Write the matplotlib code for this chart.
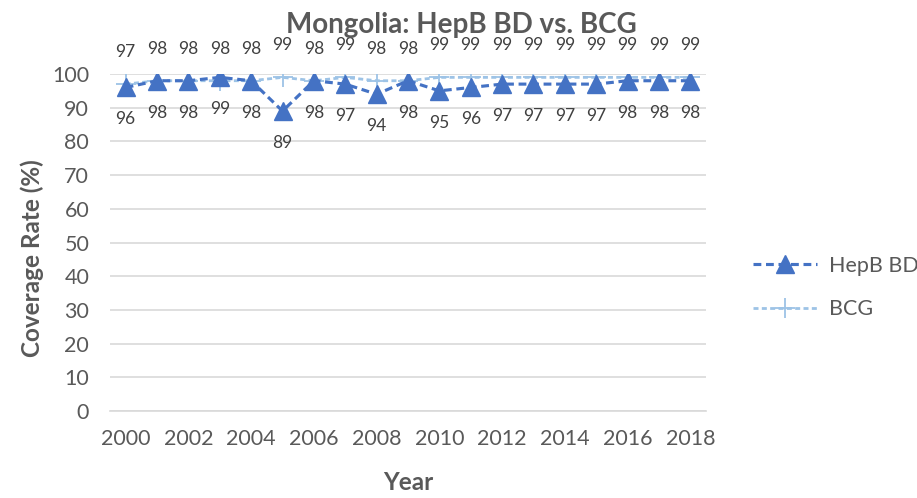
import matplotlib.pyplot as plt

plt.rcParams['font.family'] = ['Lato', 'DejaVu Sans']

years = list(range(2000, 2019))
hepb_bd = [96, 98, 98, 99, 98, 89, 98, 97, 94, 98, 95, 96, 97, 97, 97, 97, 98, 98, 98]
bcg = [97, 98, 98, 98, 98, 99, 98, 99, 98, 98, 99, 99, 99, 99, 99, 99, 99, 99, 99]
tick_years = list(range(2000, 2019, 2))

gray = '#595959'
fig = plt.figure(figsize=(9.17, 4.98), dpi=100)
# plot area: x 110..706 px, y 74..411 px
ax = fig.add_axes([110 / 917, 1 - 411 / 498, 596 / 917, 337 / 498])

ax.plot(years, bcg, color='#9DC3E6', ls=(0, (1.8, 1.2)), lw=2, marker='+',
        ms=14, mew=1.3, label='BCG', zorder=3)
ax.plot(years, hepb_bd, color='#4472C4', ls=(0, (2.5, 1.5)), lw=2.25,
        marker='^', ms=12.5, label='HepB BD', zorder=4)

for x, v in zip(years, bcg):
    ax.annotate(str(v), (x, v), xytext=(0, 23), textcoords='offset points',
                ha='center', va='center', fontsize=12.5, color='#404040')
for x, v in zip(years, hepb_bd):
    ax.annotate(str(v), (x, v), xytext=(0, -23), textcoords='offset points',
                ha='center', va='center', fontsize=12.5, color='#404040')

ax.set_xlim(1999.5, 2018.5)
ax.set_ylim(0, 100)
ax.set_yticks(range(0, 101, 10))
ax.set_xticks(tick_years)
ax.grid(axis='y', color='#D9D9D9', lw=1.2)
ax.set_axisbelow(True)
for s in ['top', 'right', 'left']:
    ax.spines[s].set_visible(False)
ax.spines['bottom'].set_color('#D9D9D9')
ax.spines['bottom'].set_linewidth(1.2)
ax.tick_params(length=0, labelsize=15.5, colors=gray)
ax.tick_params(axis='y', pad=15)
ax.tick_params(axis='x', pad=13)

fig.text(0.503, 1 - 33 / 498, 'Mongolia: HepB BD vs. BCG', fontsize=20,
         fontweight='bold', color=gray, ha='center', va='baseline')
fig.text(32 / 917, 1 - 258 / 498, 'Coverage Rate (%)', fontsize=17.5,
         fontweight='bold', color=gray, rotation=90, ha='center', va='center')
fig.text(408 / 917, 1 - 482 / 498, 'Year', fontsize=17.5, fontweight='bold',
         color=gray, ha='center', va='center')

handles, labels = ax.get_legend_handles_labels()
fig.legend(handles[::-1], labels[::-1], loc='center left',
           bbox_to_anchor=(744 / 917, 1 - 287.5 / 498), borderaxespad=0,
           frameon=False, fontsize=15.5, labelcolor=gray, handlelength=3,
           handletextpad=0.55, labelspacing=1.1)

fig.savefig('out.png', dpi=100)
